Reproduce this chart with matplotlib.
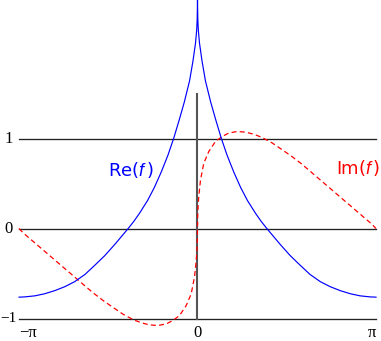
import numpy as np
import matplotlib
matplotlib.use('Agg')
import matplotlib.pyplot as plt

plt.rcParams['mathtext.fontset'] = 'custom'
plt.rcParams['mathtext.rm'] = 'Liberation Sans'
plt.rcParams['mathtext.it'] = 'Liberation Sans:italic'

# values for x >= 0 (Re is even, Im is odd)
x_re = [0.0, 0.002, 0.006, 0.015, 0.035, 0.08, 0.14, 0.23, 0.32, 0.42, 0.52, 0.64,
        0.76, 0.88, 1.02, 1.12, 1.22, 1.34, 1.46, 1.63, 1.81, 1.98, 2.16, 2.33,
        2.51, 2.69, 2.86, 3.04, np.pi]
re_f = [2.60, 2.45, 2.32, 2.20, 2.06, 1.86, 1.64, 1.41, 1.21, 1.00, 0.815, 0.625,
        0.455, 0.31, 0.17, 0.08, 0.0, -0.09, -0.18, -0.30, -0.41, -0.51, -0.59, -0.645,
        -0.69, -0.725, -0.748, -0.76, -0.763]

x_im = [0.0, 0.004, 0.01, 0.023, 0.053, 0.111, 0.199, 0.316, 0.433, 0.549, 0.697,
        0.843, 0.988, 1.135, 1.311, 1.486, 1.662, 1.837, 2.013, 2.188, 2.364, 2.539,
        2.715, 2.89, 3.066, np.pi]
im_f = [0.0, 0.15, 0.24, 0.36, 0.54, 0.726, 0.856, 0.967, 1.022, 1.06, 1.078,
        1.071, 1.048, 1.012, 0.952, 0.877, 0.80, 0.715, 0.62, 0.525, 0.43, 0.335,
        0.24, 0.145, 0.05, 0.0]

grid_y = [-1, 0, 1]
y_labels = ['\u22121', '0', '1']
x_ticks = [-np.pi, 0, np.pi]
x_labels = ['\u2212\u03c0', '0', '\u03c0']

xr = np.array(x_re)
xi = np.array(x_im)
re_x = np.concatenate([-xr[::-1], xr[1:]])
re_y = np.concatenate([np.array(re_f)[::-1], np.array(re_f)[1:]])
im_x = np.concatenate([-xi[::-1], xi[1:]])
im_y = np.concatenate([-np.array(im_f)[::-1], np.array(im_f)[1:]])

fig = plt.figure(figsize=(3.81, 3.41), dpi=100)
ax = fig.add_axes([0, 0, 1, 1])
ax.set_xlim(-3.476, 3.2296)
ax.set_ylim(-1.25, 2.539)
ax.axis('off')

for y in grid_y:
    ax.plot([-np.pi, np.pi], [y, y], color='#222222', lw=0.95, zorder=1)
ax.plot([0, 0], [-1, 1.494], color='#555555', lw=1.5, zorder=1)

ax.plot(im_x, im_y, color='#ff0000', lw=0.9, dashes=(4, 2.6), zorder=2)
ax.plot(re_x, re_y, color='#0000ff', lw=0.85, zorder=3)

for y, lab in zip(grid_y, y_labels):
    if lab.startswith('\u2212'):
        ax.text(-3.467, y, lab, ha='left', va='center', fontsize=11,
                family='Liberation Serif')
    else:
        ax.text(-3.25, y, lab, ha='right', va='center', fontsize=12,
                family='Liberation Serif')
for xt, lab, ha in zip(x_ticks, x_labels, ['left', 'center', 'right']):
    ax.text(xt, -1.16, lab, ha=ha, va='center', fontsize=12,
            family='Liberation Serif')

ax.text(-1.17, 0.65, r'Re($\mathit{f}\,$)', color='#0000ff', fontsize=13,
        ha='center', va='center')
ax.text(2.83, 0.67, r'Im($\mathit{f}\,$)', color='#ff0000', fontsize=13,
        ha='center', va='center')

fig.savefig('out.png', dpi=100)
